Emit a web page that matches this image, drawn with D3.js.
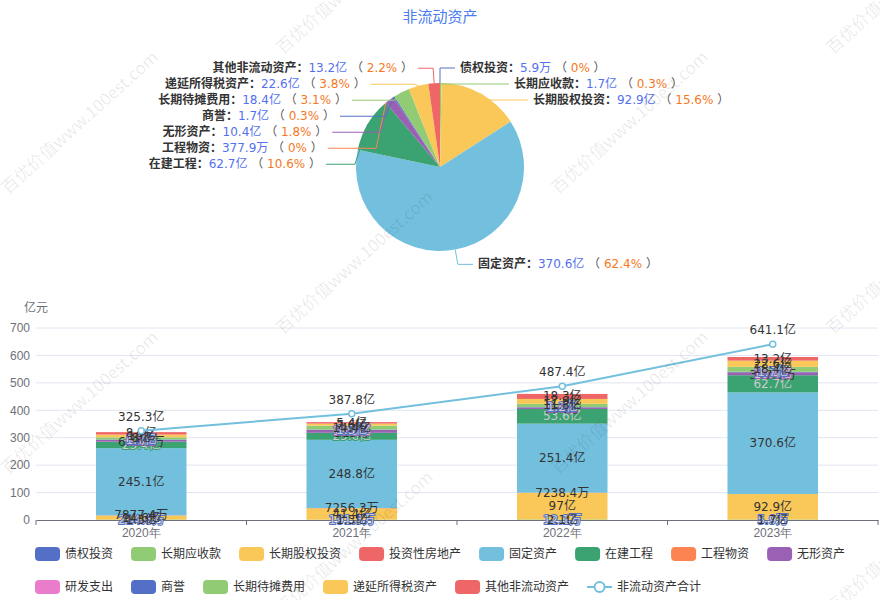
<!DOCTYPE html>
<html><head><meta charset="utf-8">
<script src="https://cdn.jsdelivr.net/npm/d3@7/dist/d3.min.js"></script>
<style>body{margin:0;background:#fff}svg{display:block;font-family:"DejaVu Sans","Noto Sans CJK SC",sans-serif}</style>
</head><body><svg id="c" width="880" height="600"></svg>
<script>
(function () {
// ---------- data (亿元) ----------
const years = ['2020年', '2021年', '2022年', '2023年'];
const seriesNames = ['债权投资', '长期应收款', '长期股权投资', '投资性房地产', '固定资产', '在建工程', '工程物资', '无形资产', '研发支出', '商誉', '长期待摊费用', '递延所得税资产', '其他非流动资产'];
const debtInv       = [0.02146, 0.01913, 0.00121, 0.00059];
const ltReceivable  = [1.5, 1.3, 2.1, 1.7];
const ltEquity      = [14.6, 41.4, 97, 92.9];
const invProperty   = [0.78774, 0.72563, 0.72384, null];
const fixedAssets   = [245.1, 248.8, 251.4, 370.6];
const construction  = [23.4, 25.6, 53.6, 62.7];
const engMaterials  = [0.06345, 0.0519, 0.0358, 0.03779];
const intangible    = [6.3, 10.3, 5.6, 10.4];
const rnd           = [null, null, null, null];
const goodwill      = [1.7, 1.3, 1.2, 1.7];
const ltPrepaid     = [8.0, 14.4, 11.8, 18.4];
const deferredTax   = [10.0, 7.6, 17.9, 22.6];
const otherNC       = [8.9, 5.4, 18.3, 13.2];
const totalNC       = [325.3, 387.8, 487.4, 641.1];
const totalName = '非流动资产合计';
const yTicks = [0, 100, 200, 300, 400, 500, 600, 700];
const pieYearIndex = 3;

const seriesValues = [debtInv, ltReceivable, ltEquity, invProperty, fixedAssets, construction, engMaterials, intangible, rnd, goodwill, ltPrepaid, deferredTax, otherNC];
const colors = ['#5470c6', '#91cc75', '#fac858', '#ee6666', '#73c0de', '#3ba272', '#fc8452', '#9a60b4', '#ea7ccc', '#5470c6', '#91cc75', '#fac858', '#ee6666'];
const lineColor = '#73c0de';

const fmtVal = v => v >= 1 ? (+v.toFixed(1)) + '亿' : (+(v * 10000).toFixed(1)) + '万';
const fmtPct = p => (+p.toFixed(1)) + '%';
const lum = c => { const r = d3.rgb(c); return (0.299 * r.r + 0.587 * r.g + 0.114 * r.b) / 255; };

const svg = d3.select('#c');
const FONT = 12;

// ---------- title ----------
svg.append('text').attr('x', 440).attr('y', 17).attr('text-anchor', 'middle').attr('dominant-baseline', 'central')
  .attr('font-size', 15).attr('fill', '#4a7cf0').text('非流动资产');

// ---------- pie ----------
const cx = 440, cy = 167, R = 84, len1 = 15, len2 = 15, labelGap = 16;
const pieData = seriesNames.map((n, i) => ({ name: n, value: seriesValues[i][pieYearIndex], color: colors[i] }))
  .filter(d => d.value != null && d.value > 0);
const pieSum = d3.sum(pieData, d => d.value);
const arcs = d3.pie().sort(null).value(d => d.value)(pieData);
const arcGen = d3.arc().innerRadius(0).outerRadius(R);
const gPie = svg.append('g');
gPie.selectAll('path').data(arcs).join('path')
  .attr('transform', `translate(${cx},${cy})`).attr('d', arcGen).attr('fill', d => d.data.color);

const items = arcs.map(a => {
  const mid = (a.startAngle + a.endAngle) / 2;
  const dx = Math.sin(mid), dy = -Math.cos(mid);
  const dir = dx < 0 ? -1 : 1;
  const p0 = [cx + R * dx, cy + R * dy];
  const x2 = cx + (R + len1) * dx, y2 = cy + (R + len1) * dy;
  return { a, dir, p0, x2, y: y2, x: x2 + dir * len2 };
});
[-1, 1].forEach(side => {
  const list = items.filter(d => d.dir === side).sort((p, q) => p.y - q.y);
  let adjusted = false;
  for (let i = 1; i < list.length; i++) {
    if (list[i].y < list[i - 1].y + labelGap) { list[i].y = list[i - 1].y + labelGap; adjusted = true; }
  }
  if (!adjusted) return;
  [list.filter(d => d.y < cy), list.filter(d => d.y >= cy)].forEach(semi => {
    if (!semi.length) return;
    let maxY = -1, rB = R + len1;
    semi.forEach(it => {
      const dyy = Math.abs(it.y - cy);
      if (dyy >= maxY) {
        const dx0 = it.x2 - cx, rA = R + len1;
        rB = Math.abs(dx0) < rA ? Math.sqrt(dyy * dyy / (1 - dx0 * dx0 / rA / rA)) : rA;
        maxY = dyy;
      }
    });
    semi.forEach(it => {
      const dyy = Math.abs(it.y - cy), rA = R + len1;
      const ddx = Math.sqrt(Math.max(0, 1 - dyy * dyy / rB / rB)) * rA;
      it.x = cx + (ddx + len2) * it.dir;
    });
  });
});
items.forEach(it => {
  gPie.append('polyline').attr('fill', 'none').attr('stroke', it.a.data.color).attr('stroke-width', 1)
    .attr('points', [it.p0, [it.x2, it.y], [it.x, it.y]].map(p => p.join(',')).join(' '));
  const t = gPie.append('text').attr('x', it.x + it.dir * 5).attr('y', it.y)
    .attr('text-anchor', it.dir < 0 ? 'end' : 'start').attr('dominant-baseline', 'central').attr('font-size', FONT);
  t.append('tspan').attr('fill', '#333').attr('font-weight', 'bold').text(it.a.data.name + '：');
  t.append('tspan').attr('fill', '#5470f0').text(fmtVal(it.a.data.value));
  t.append('tspan').attr('fill', '#555').text(' （ ');
  t.append('tspan').attr('fill', '#f5781e').text(fmtPct(it.a.data.value / pieSum * 100));
  t.append('tspan').attr('fill', '#555').text(' ）');
});

// ---------- bar chart ----------
const gLeft = 36, gRight = 878, gTop = 328, gBottom = 520;
const x = d3.scaleBand().domain(years).range([gLeft, gRight]).paddingInner(0).paddingOuter(0);
const y = d3.scaleLinear().domain([0, 700]).range([gBottom, gTop]);
const barW = x.bandwidth() * 0.43;

const gGrid = svg.append('g');
gGrid.selectAll('line').data(yTicks.filter(t => t > 0)).join('line')
  .attr('x1', gLeft).attr('x2', gRight).attr('y1', d => y(d)).attr('y2', d => y(d)).attr('stroke', '#E0E6F1');

const yAxis = svg.append('g').attr('transform', `translate(${gLeft},0)`)
  .call(d3.axisLeft(y).tickValues(yTicks).tickSize(0).tickPadding(6));
yAxis.select('.domain').remove();
yAxis.selectAll('text').attr('fill', '#6E7079').attr('font-size', FONT).attr('font-family', null);
svg.append('text').attr('x', gLeft).attr('y', 308).attr('text-anchor', 'middle').attr('dominant-baseline', 'central')
  .attr('fill', '#6E7079').attr('font-size', FONT).text('亿元');

const table = years.map((yr, i) => { const o = { year: yr }; seriesNames.forEach((n, k) => o[n] = seriesValues[k][i]); return o; });
const stacked = d3.stack().keys(seriesNames).value((d, k) => d[k] == null ? 0 : d[k])(table);

const gBars = svg.append('g');
const labelData = [];
stacked.forEach((layer, k) => {
  layer.forEach((seg, i) => {
    if (seriesValues[k][i] == null) return;
    gBars.append('rect').attr('x', x(years[i]) + (x.bandwidth() - barW) / 2).attr('width', barW)
      .attr('y', y(seg[1])).attr('height', Math.max(0, y(seg[0]) - y(seg[1]))).attr('fill', colors[k]);
    labelData.push({ x: x(years[i]) + x.bandwidth() / 2, y: y((seg[0] + seg[1]) / 2), text: fmtVal(seriesValues[k][i]), color: colors[k] });
  });
});

// x axis
const xAxis = svg.append('g').attr('transform', `translate(0,${gBottom})`)
  .call(d3.axisBottom(x).tickSize(0).tickPadding(8));
xAxis.select('.domain').attr('stroke', '#6E7079');
xAxis.selectAll('text').attr('fill', '#6E7079').attr('font-size', FONT).attr('font-family', null);
svg.append('g').selectAll('line').data(years.concat(['__end'])).join('line')
  .attr('x1', (d, i) => gLeft + i * x.bandwidth()).attr('x2', (d, i) => gLeft + i * x.bandwidth())
  .attr('y1', gBottom).attr('y2', gBottom + 5).attr('stroke', '#6E7079');

// bar labels
const gBL = svg.append('g');
labelData.forEach(d => {
  const L = lum(d.color);
  const t = gBL.append('text').attr('x', d.x).attr('y', d.y).attr('text-anchor', 'middle').attr('dominant-baseline', 'central')
    .attr('font-size', FONT).text(d.text);
  if (L > 0.5) t.attr('fill', '#333');
  else t.attr('fill', L > 0.2 ? '#ccc' : '#eee').attr('stroke', d.color).attr('stroke-width', 2).attr('paint-order', 'stroke').attr('stroke-linejoin', 'round');
});

// line
const pts = years.map((yr, i) => [x(yr) + x.bandwidth() / 2, y(totalNC[i])]);
svg.append('path').attr('d', d3.line()(pts)).attr('fill', 'none').attr('stroke', lineColor).attr('stroke-width', 2);
svg.append('g').selectAll('circle').data(pts).join('circle').attr('cx', d => d[0]).attr('cy', d => d[1]).attr('r', 3)
  .attr('fill', '#fff').attr('stroke', lineColor).attr('stroke-width', 1.5);
svg.append('g').selectAll('text').data(years).join('text')
  .attr('x', (d, i) => pts[i][0]).attr('y', (d, i) => pts[i][1] - 14).attr('text-anchor', 'middle').attr('dominant-baseline', 'central')
  .attr('font-size', FONT).attr('fill', '#333').text((d, i) => fmtVal(totalNC[i]));

// ---------- legend ----------
const legendItems = seriesNames.map((n, i) => ({ name: n, color: colors[i], type: 'rect' })).concat([{ name: totalName, color: lineColor, type: 'line' }]);
const gL = svg.append('g');
let lx = 35, ly = 554;
const rowH = 33, itemGap = 18, maxX = 860;
legendItems.forEach(it => {
  const g = gL.append('g');
  const tt = g.append('text').attr('x', 30).attr('y', 0).attr('dominant-baseline', 'central').attr('font-size', FONT).attr('fill', '#333').text(it.name);
  const w = 30 + tt.node().getComputedTextLength();
  if (lx + w > maxX) { lx = 35; ly += rowH; }
  g.attr('transform', `translate(${lx},${ly})`);
  if (it.type === 'rect') g.insert('rect', 'text').attr('x', 0).attr('y', -7).attr('width', 25).attr('height', 14).attr('rx', 4).attr('fill', it.color);
  else {
    g.insert('line', 'text').attr('x1', 0).attr('x2', 25).attr('y1', 0).attr('y2', 0).attr('stroke', it.color).attr('stroke-width', 2);
    g.insert('circle', 'text').attr('cx', 12.5).attr('cy', 0).attr('r', 5).attr('fill', '#fff').attr('stroke', it.color).attr('stroke-width', 2);
  }
  lx += w + itemGap;
});

// ---------- watermark ----------
const wmText = '百优价值www.100est.com';
const wmOrigin = [8, 195], wmU = [550, 0], wmV = [275, 140];
const gW = svg.append('g').attr('pointer-events', 'none');
for (let a = -2; a <= 3; a++) for (let b = -1; b <= 4; b++) {
  const px = wmOrigin[0] + a * wmU[0] + b * wmV[0], py = wmOrigin[1] + a * wmU[1] + b * wmV[1];
  if (px < -250 || px > 900 || py < 0 || py > 800) continue;
  gW.append('text').attr('transform', `translate(${px},${py}) rotate(-42)`).attr('font-size', 17)
    .attr('font-family', '"Noto Sans CJK SC", sans-serif').attr('fill', 'rgba(0,0,0,0.09)').text(wmText);
}
})();
</script></body></html>
